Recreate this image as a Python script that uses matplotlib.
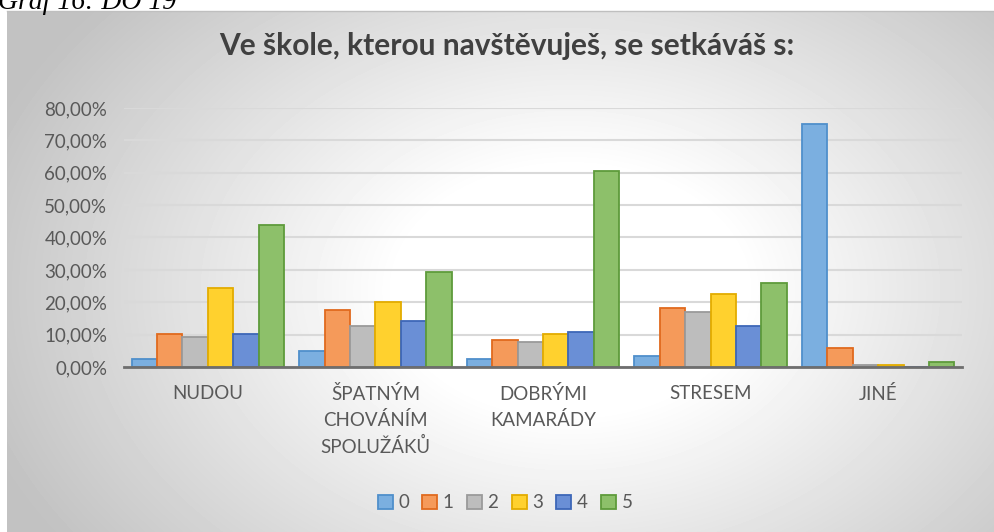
import numpy as np
import matplotlib
matplotlib.use('Agg')
import matplotlib.pyplot as plt
from matplotlib.patches import Patch

# data (%)
categories = ['NUDOU', 'ŠPATNÝM\nCHOVÁNÍM\nSPOLUŽÁKŮ', 'DOBRÝMI\nKAMARÁDY', 'STRESEM', 'JINÉ']
series_names = ['0', '1', '2', '3', '4', '5']
s0 = [2.6, 5.0, 2.6, 3.4, 75.0]
s1 = [10.2, 17.6, 8.3, 18.3, 5.9]
s2 = [9.4, 12.7, 7.7, 17.0, 0.6]
s3 = [24.4, 20.2, 10.2, 22.6, 0.5]
s4 = [10.2, 14.3, 10.9, 12.7, 0.0]
s5 = [43.8, 29.4, 60.5, 26.0, 1.6]
series = [s0, s1, s2, s3, s4, s5]
yticks = [0, 10, 20, 30, 40, 50, 60, 70, 80]

faces = ['#7BAFE0', '#F59A5A', '#BDBDBD', '#FFD12E', '#6A8FD6', '#8DC06A']
edges = ['#4F8FCB', '#E06A1E', '#9A9A9A', '#E3AC00', '#3D67B8', '#5E9B3B']

plt.rcParams['font.family'] = ['Lato', 'DejaVu Sans']

W, H = 994, 532
fig = plt.figure(figsize=(W / 100, H / 100), dpi=100)
fig.patch.set_facecolor('white')

# chart background with radial grey gradient
top_px, left_px = 11, 7
bg = fig.add_axes([left_px / W, 0, 1 - left_px / W, (H - top_px) / H])
xx, yy = np.meshgrid(np.arange(left_px, W), np.arange(top_px, H))
dx = (xx - 570) / 620
dy = (yy - 290) / 440
r = np.sqrt(dx ** 2 + dy ** 2)
v = 1 - 0.24 * np.clip((r - 0.28) / 0.72, 0, 1)
bg.imshow(v, cmap='gray', vmin=0, vmax=1, aspect='auto', interpolation='bilinear')
bg.set_axis_off()
fig.add_artist(plt.Line2D([left_px / W, 1], [1 - top_px / H] * 2, color='#bfbfbf', lw=1))

# caption cut at the top
fig.text(-2 / W, 1 - 9 / H, 'Graf 16: DO 19', family='Liberation Serif', style='italic',
         fontsize=20, va='baseline', ha='left', color='black')

ax = fig.add_axes([124 / W, 1 - 367 / H, (962 - 124) / W, (367 - 108) / H])
ax.set_facecolor('none')

x = np.arange(len(categories))
w = 1 / 6.6
for i, vals in enumerate(series):
    ax.bar(x + (i - 2.5) * w, vals, width=w, color=faces[i], edgecolor=edges[i],
           linewidth=1.3, zorder=3)

ax.set_xlim(-0.5, len(categories) - 0.5)
ax.set_ylim(0, 80)
ax.set_yticks(yticks)
ax.set_yticklabels([f'{t:.2f}'.replace('.', ',') + '%' for t in yticks])
ax.yaxis.grid(True, color='#d9d9d9', lw=1.5, zorder=0)
ax.set_axisbelow(True)
ax.set_xticks(x)
ax.set_xticklabels(categories, linespacing=1.5)
ax.tick_params(axis='both', length=0, labelsize=13.5, colors='#595959')
ax.tick_params(axis='x', pad=13)
ax.tick_params(axis='y', pad=12)
for sp in ['top', 'right', 'left']:
    ax.spines[sp].set_visible(False)
ax.spines['bottom'].set_color('#6e6e6e')
ax.spines['bottom'].set_linewidth(2)
ax.spines['bottom'].set_zorder(4)

fig.text(507 / W, 1 - 46 / H, 'Ve škole, kterou navštěvuješ, se setkáváš s:', ha='center', va='center',
         fontsize=21.5, fontweight='bold', color='#404040')

handles = [Patch(facecolor=faces[i], edgecolor=edges[i], lw=1.3) for i in range(6)]
fig.legend(handles, series_names, loc='center', bbox_to_anchor=(505 / W, 1 - 503 / H), ncol=6,
           frameon=False, fontsize=13.5, handlelength=0.8, handleheight=0.8,
           handletextpad=0.3, columnspacing=0.7, labelcolor='#595959')

fig.savefig('out.png', dpi=100)
